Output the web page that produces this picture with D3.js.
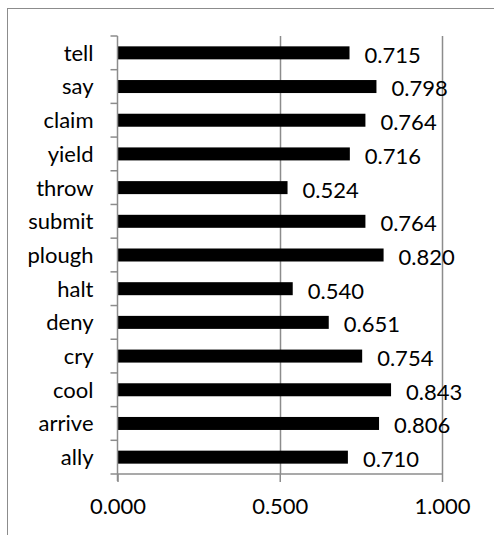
<!DOCTYPE html>
<html><head><meta charset="utf-8">
<script src="https://cdn.jsdelivr.net/npm/d3@7"></script>
<style>body{margin:0;background:#fff}svg{display:block}text{font-family:Lato,"Open Sans",sans-serif;fill:#000}</style>
</head><body><svg id="c" width="494" height="535"></svg>
<script>
const categories = ["tell","say","claim","yield","throw","submit","plough","halt","deny","cry","cool","arrive","ally"];
const values = [0.715,0.798,0.764,0.716,0.524,0.764,0.820,0.540,0.651,0.754,0.843,0.806,0.710];
const xTicks = [0, 0.5, 1.0];

(function(){
const svg = d3.select("#c");
svg.append("rect").attr("x",7.5).attr("y",8.5).attr("width",520).attr("height",560)
  .attr("fill","none").attr("stroke","#8c8c8c").attr("stroke-width",1);

const pL = 117.5, pR = 442, pT = 36, pB = 474;
const fs = "22px";
const x = d3.scaleLinear().domain([0,1]).range([pL,pR]);
const yb = d3.scaleBand().domain(categories).range([pT,pB]);

// gridlines
svg.append("g").selectAll("line").data(xTicks.filter(d=>d>0)).join("line")
  .attr("x1",d=>Math.round(x(d))+0.5).attr("x2",d=>Math.round(x(d))+0.5)
  .attr("y1",pT).attr("y2",pB).attr("stroke","#8c8c8c").attr("stroke-width",1.5);

// bars
svg.append("g").selectAll("rect").data(values).join("rect")
  .attr("x",x(0)).attr("y",(d,i)=>yb(categories[i])+yb.bandwidth()/2-6.5)
  .attr("width",d=>x(d)-x(0)).attr("height",13).attr("fill","#000");

// y axis
const ya = svg.append("g").attr("transform",`translate(${pL},0)`)
  .call(d3.axisLeft(yb).tickSize(0).tickPadding(24).tickFormat(d=>d));
ya.select(".domain").remove();
ya.selectAll("text").style("font-size",fs).attr("dy","0.36em");
svg.append("line").attr("x1",pL).attr("x2",pL).attr("y1",pT).attr("y2",pB+7)
  .attr("stroke","#8c8c8c").attr("stroke-width",1.5);
svg.append("g").selectAll("line").data(d3.range(categories.length+1)).join("line")
  .attr("x1",pL-7).attr("x2",pL).attr("y1",i=>pT+i*yb.step()).attr("y2",i=>pT+i*yb.step())
  .attr("stroke","#8c8c8c").attr("stroke-width",1.5);

// x axis
svg.append("line").attr("x1",pL).attr("x2",pR).attr("y1",pB).attr("y2",pB)
  .attr("stroke","#8c8c8c").attr("stroke-width",1.5);
const xa = svg.append("g").attr("transform",`translate(0,${pB})`)
  .call(d3.axisBottom(x).tickValues(xTicks).tickSize(8).tickPadding(16).tickFormat(d3.format(".3f")));
xa.select(".domain").remove();
xa.selectAll("line").attr("stroke","#8c8c8c").attr("stroke-width",1.5);
xa.selectAll("text").style("font-size",fs);

// value labels
svg.append("g").selectAll("text").data(values).join("text")
  .attr("x",d=>x(d)+15).attr("y",(d,i)=>yb(categories[i])+yb.bandwidth()/2+2)
  .attr("dy","0.36em").style("font-size",fs).text(d=>d3.format(".3f")(d));
})();
</script></body></html>
